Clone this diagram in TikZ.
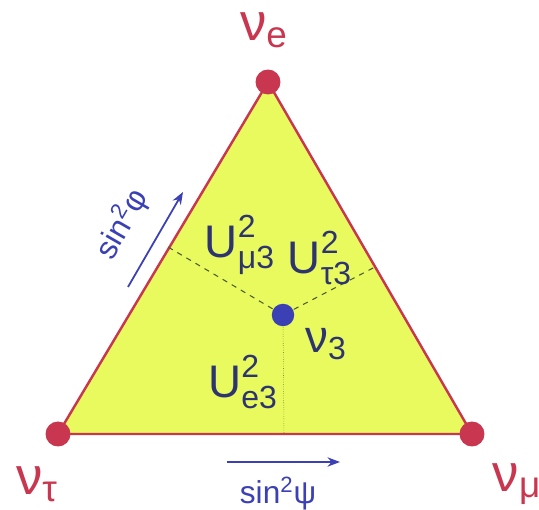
\documentclass[tikz,border=0pt]{standalone}
\usepackage{amsmath}
\usepackage{fontspec}
\setmainfont{Liberation Sans}
\usetikzlibrary{arrows.meta,calc}
\definecolor{TriYellow}{HTML}{E8FA5E}
\definecolor{TriRed}{HTML}{C8374F}
\definecolor{TriBlue}{HTML}{3B40B4}
\definecolor{TriInk}{HTML}{2E3470}
\definecolor{TriLine}{HTML}{4F5A2A}
\newcommand{\Umix}[1]{$\text{U}^{\text{2}}_{\text{#1}}$}

\begin{document}
\begin{tikzpicture}[x=0.02cm,y=-0.02cm,line width=1pt,
  vertex/.style={circle,fill=TriRed,inner sep=0pt,minimum size=0.5cm},
  flavour/.style={TriRed,font=\fontsize{30}{30}\selectfont},
  mixing/.style={TriInk,font=\fontsize{26}{26}\selectfont},
  border/.style={TriLine,line width=0.6pt,dashed},
  axislabel/.style={TriBlue,font=\fontsize{18}{18}\selectfont}]
  \useasboundingbox (0,0) rectangle (539,510);
  % --- triangle des saveurs ---
  \coordinate (ve) at (268,82);
  \coordinate (vt) at (58,434);
  \coordinate (vm) at (472,434);
  \fill[TriYellow] (ve) -- (vm) -- (vt) -- cycle;
  \draw[TriRed,line width=1.4pt] (ve) -- (vm) -- (vt) -- cycle;
  % frontieres entre les regions
  \node[circle,fill=TriBlue,inner sep=0pt,minimum size=0.45cm] (nu3) at (283,315) {};
  \coordinate (cl) at (168,247);
  \coordinate (cr) at (375,267);
  \coordinate (cb) at (284,434);
  \draw[border] (nu3) -- (cl);
  \draw[border] (nu3) -- (cr);
  \draw[border,line width=0.3pt,densely dotted] (nu3) -- (cb);
  % sommets
  \node[vertex] (e) at (ve) {};
  \node[vertex] (t) at (vt) {};
  \node[vertex] (m) at (vm) {};
  \node[flavour] at (264,30) {ν\textsubscript{e}};
  \node[flavour] at (37,484) {ν\textsubscript{τ}};
  \node[flavour] at (517,484) {ν\textsubscript{μ}};
  \node[mixing] at (326,344) {ν\textsubscript{3}};
  % elements de matrice
  \node[mixing] at (240,245) {\Umix{μ3}};
  \node[mixing] at (320,258) {\Umix{τ3}};
  \node[mixing] at (243,382) {\Umix{e3}};
  % axes
  \coordinate (ba) at (227,462);
  \coordinate (bb) at (340,462);
  \draw[TriBlue,-{Stealth[length=2.5mm]}] (ba) -- (bb);
  \node[axislabel] at (278,494) {sin$^{\text{2}}$ψ};
  \coordinate (la) at (128,287);
  \coordinate (lb) at (183,192);
  \draw[TriBlue,-{Stealth[length=2.5mm]}] (la) -- (lb);
  \node[axislabel,rotate=60] at (122,224) {sin$^{\text{2}}$φ};
\end{tikzpicture}
\end{document}
